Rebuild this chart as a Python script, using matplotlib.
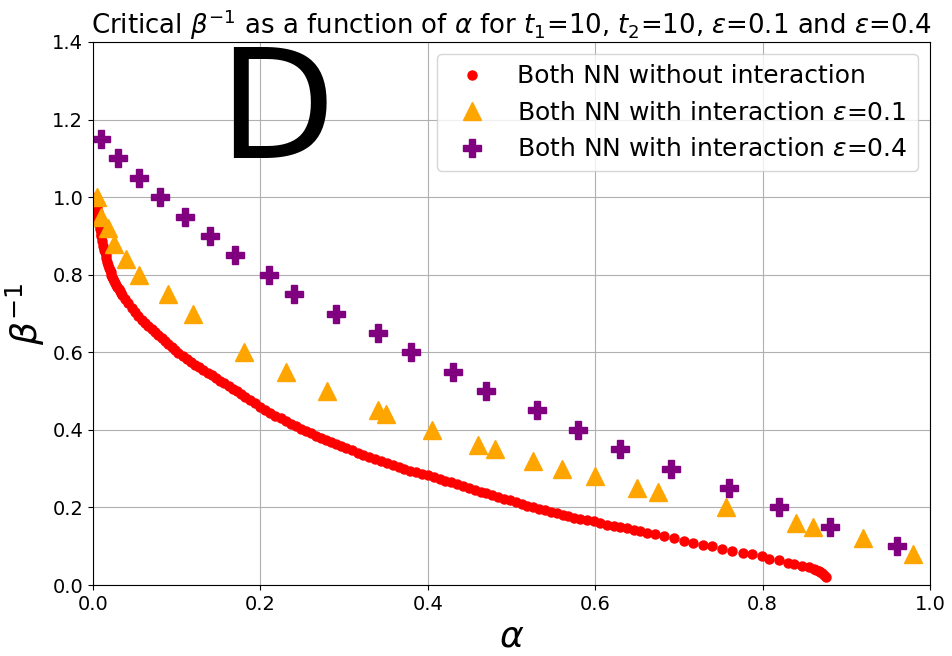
import numpy as np
import matplotlib
matplotlib.use('Agg')
import matplotlib.pyplot as plt

# red: both NN without interaction
alpha_free = [0.003, 0.0035, 0.004, 0.0045, 0.005, 0.0055, 0.006, 0.0065, 0.007, 0.0075,
              0.008, 0.0085, 0.009, 0.0095, 0.010, 0.011, 0.012, 0.013,
              0.014, 0.015, 0.016, 0.017, 0.018, 0.019, 0.020, 0.021, 0.022, 0.023,
              0.024, 0.025, 0.026, 0.0275, 0.029, 0.0305, 0.032, 0.0335, 0.035,
              0.038, 0.042, 0.046, 0.050, 0.054, 0.058, 0.062, 0.066, 0.070, 0.074,
              0.078, 0.082, 0.086, 0.090, 0.094, 0.098, 0.102, 0.107, 0.112, 0.117,
              0.122, 0.127, 0.132, 0.137, 0.142, 0.147, 0.152, 0.157, 0.162, 0.167,
              0.172, 0.177, 0.182, 0.188, 0.194, 0.200, 0.206, 0.212, 0.218, 0.224,
              0.230, 0.236, 0.242, 0.248, 0.254, 0.260, 0.266, 0.272, 0.278, 0.284,
              0.290, 0.296, 0.302, 0.309, 0.316, 0.323, 0.330, 0.337, 0.344, 0.351,
              0.358, 0.365, 0.372, 0.379, 0.386, 0.393, 0.400, 0.407, 0.414, 0.421,
              0.428, 0.435, 0.442, 0.449, 0.456, 0.463, 0.470, 0.477, 0.484, 0.491,
              0.498, 0.505, 0.512, 0.519, 0.526, 0.533, 0.540, 0.547, 0.554, 0.561,
              0.568, 0.575, 0.582, 0.590, 0.598, 0.606, 0.614, 0.622, 0.630, 0.638,
              0.646, 0.654, 0.662, 0.671, 0.682, 0.694, 0.706, 0.717, 0.729, 0.740,
              0.752, 0.764, 0.776, 0.787, 0.799, 0.808, 0.819, 0.830, 0.838, 0.847,
              0.855, 0.861, 0.864, 0.867, 0.869, 0.871, 0.873, 0.876]
beta_free = [1.000, 0.992, 0.985, 0.978, 0.970, 0.962, 0.955, 0.948, 0.940, 0.932,
             0.925, 0.918, 0.912, 0.906, 0.900, 0.888, 0.873, 0.865,
             0.858, 0.850, 0.843, 0.834, 0.825, 0.818, 0.812, 0.806, 0.800, 0.794,
             0.789, 0.784, 0.779, 0.773, 0.768, 0.762, 0.757, 0.752, 0.747,
             0.738, 0.726, 0.715, 0.704, 0.694, 0.684, 0.675, 0.667, 0.660, 0.653,
             0.645, 0.637, 0.629, 0.621, 0.613, 0.606, 0.599, 0.591, 0.583, 0.576,
             0.568, 0.561, 0.554, 0.547, 0.541, 0.534, 0.527, 0.520, 0.513, 0.506,
             0.499, 0.492, 0.485, 0.476, 0.468, 0.459, 0.451, 0.444, 0.437, 0.430,
             0.423, 0.416, 0.409, 0.403, 0.397, 0.391, 0.385, 0.379, 0.374, 0.368,
             0.363, 0.358, 0.353, 0.347, 0.341, 0.335, 0.330, 0.324, 0.319, 0.314,
             0.309, 0.304, 0.299, 0.295, 0.291, 0.287, 0.283, 0.279, 0.274, 0.269,
             0.265, 0.260, 0.255, 0.250, 0.245, 0.240, 0.236, 0.231, 0.227, 0.222,
             0.218, 0.214, 0.210, 0.205, 0.201, 0.197, 0.193, 0.189, 0.185, 0.181,
             0.178, 0.174, 0.170, 0.167, 0.164, 0.160, 0.156, 0.152, 0.149, 0.146,
             0.142, 0.139, 0.135, 0.131, 0.126, 0.120, 0.114, 0.109, 0.104, 0.100,
             0.094, 0.088, 0.083, 0.079, 0.074, 0.068, 0.064, 0.058, 0.055, 0.050,
             0.046, 0.041, 0.038, 0.036, 0.033, 0.030, 0.027, 0.020]

# orange: interaction eps=0.1
alpha_e01 = [0.005, 0.010, 0.018, 0.025, 0.040, 0.055, 0.090, 0.120, 0.180, 0.230,
             0.280, 0.340, 0.350, 0.405, 0.460, 0.480, 0.526, 0.560, 0.600, 0.650,
             0.675, 0.756, 0.840, 0.860, 0.920, 0.980]
beta_e01 = [1.00, 0.95, 0.92, 0.88, 0.84, 0.80, 0.75, 0.70, 0.60, 0.55,
            0.50, 0.45, 0.44, 0.40, 0.36, 0.35, 0.32, 0.30, 0.28, 0.25,
            0.24, 0.20, 0.16, 0.15, 0.12, 0.08]

# purple: interaction eps=0.4
alpha_e04 = [0.01, 0.03, 0.055, 0.08, 0.11, 0.14, 0.17, 0.21, 0.24, 0.29,
             0.34, 0.38, 0.43, 0.47, 0.53, 0.58, 0.63, 0.69, 0.76, 0.82,
             0.88, 0.96]
beta_e04 = [1.15, 1.10, 1.05, 1.00, 0.95, 0.90, 0.85, 0.80, 0.75, 0.70,
            0.65, 0.60, 0.55, 0.50, 0.45, 0.40, 0.35, 0.30, 0.25, 0.20,
            0.15, 0.10]

fig, ax = plt.subplots(figsize=(9.53, 6.56), dpi=100)
fig.patch.set_facecolor('white')
fig.subplots_adjust(left=0.0976, right=0.9759, top=0.936, bottom=0.1082)

ax.plot(alpha_free, beta_free, 'o', color='red', markersize=6.5,
        label='Both NN without interaction')
ax.plot(alpha_e01, beta_e01, '^', color='orange', markersize=13,
        label=r'Both NN with interaction $\varepsilon$=0.1')
ax.plot(alpha_e04, beta_e04, 'P', color='purple', markersize=13,
        label=r'Both NN with interaction $\varepsilon$=0.4')

ax.set_xlim(0, 1.0)
ax.set_ylim(0, 1.4)
ax.set_xticks(np.arange(0, 1.01, 0.2))
ax.set_yticks(np.arange(0, 1.41, 0.2))
ax.tick_params(labelsize=14)
ax.grid(True)

ax.text(0.15, 0.786, 'D', transform=ax.transAxes, fontsize=109, va='baseline')

ax.set_title(r'Critical $\beta^{-1}$ as a function of $\alpha$ for $t_1$=10, $t_2$=10, '
             r'$\varepsilon$=0.1 and $\varepsilon$=0.4', fontsize=18.7)
plt.xlabel(r'$\alpha$', fontsize=26)
plt.ylabel(r'$\beta^{-1}$', fontsize=26)
plt.legend(loc='upper right', fontsize=18)

plt.savefig('out.png', dpi=100)
